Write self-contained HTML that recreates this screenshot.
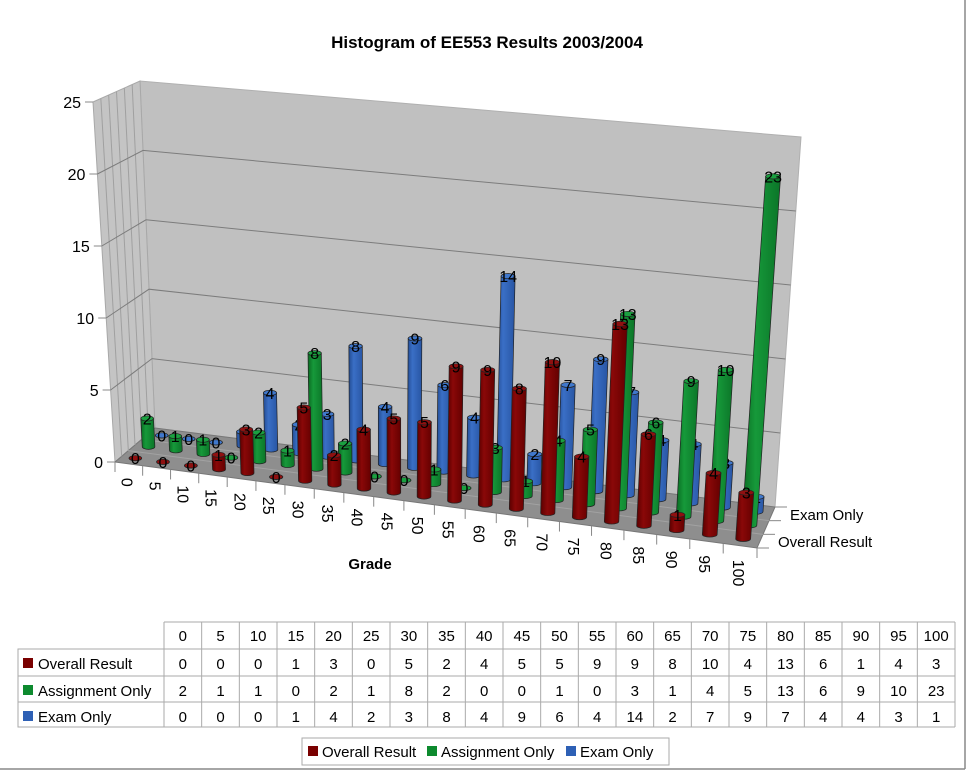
<!DOCTYPE html>
<html><head><meta charset="utf-8"><style>
body{margin:0;background:#fff;}
svg{display:block;font-family:"Liberation Sans",sans-serif;}
</style></head><body>
<svg id="chart" width="974" height="784" viewBox="0 0 974 784">
<defs>
<linearGradient id="gr" x1="0" x2="1"><stop offset="0" stop-color="#5a0000"/><stop offset="0.35" stop-color="#8a0808"/><stop offset="1" stop-color="#640000"/></linearGradient>
<linearGradient id="gg" x1="0" x2="1"><stop offset="0" stop-color="#0a6a22"/><stop offset="0.35" stop-color="#16993a"/><stop offset="1" stop-color="#0b7528"/></linearGradient>
<linearGradient id="gb" x1="0" x2="1"><stop offset="0" stop-color="#234c93"/><stop offset="0.35" stop-color="#3a6fc6"/><stop offset="1" stop-color="#2855a3"/></linearGradient>
</defs>
<line x1="965" y1="0" x2="965" y2="769" stroke="#888" stroke-width="1.5"/>
<line x1="0" y1="769" x2="965" y2="769" stroke="#888" stroke-width="1.5"/>
<text x="487" y="48" text-anchor="middle" font-size="17" font-weight="bold">Histogram of EE553 Results 2003/2004</text>
<g id="walls"></g>
<g id="bars"></g>
<g id="axes"></g>
<text x="370" y="569" text-anchor="middle" font-size="15" font-weight="bold">Grade</text>
<g id="table"></g>
</svg>
<script>
const categories=["0","5","10","15","20","25","30","35","40","45","50","55","60","65","70","75","80","85","90","95","100"];
const seriesNames=["Overall Result","Assignment Only","Exam Only"];
const overallResult=[0,0,0,1,3,0,5,2,4,5,5,9,9,8,10,4,13,6,1,4,3];
const assignmentOnly=[2,1,1,0,2,1,8,2,0,0,1,0,3,1,4,5,13,6,9,10,23];
const examOnly=[0,0,0,1,4,2,3,8,4,9,6,4,14,2,7,9,7,4,4,3,1];
const yTicks=[0,5,10,15,20,25];
const series=[overallResult,assignmentOnly,examOnly];
const fills=["url(#gr)","url(#gg)","url(#gb)"];
const caps=["#8f1010","#1aa040","#4078cc"];
const swatch=["#7a0000","#0d8a2e","#2e60b5"];
const NS="http://www.w3.org/2000/svg";
const VMAX=25;
const C={b:{fl:[115,462],fr:[757,548],bl:[155,428],br:[775,507]},t:{fl:[93,102],fr:[785,158],bl:[140,81],br:[801,137]}};
const PA=0.9;
function warp(u){return PA*u/(1+(PA-1)*u);}
function bil(c,u,w){const f=[c.fl[0]+(c.fr[0]-c.fl[0])*u,c.fl[1]+(c.fr[1]-c.fl[1])*u];const b=[c.bl[0]+(c.br[0]-c.bl[0])*u,c.bl[1]+(c.br[1]-c.bl[1])*u];return [f[0]+(b[0]-f[0])*w,f[1]+(b[1]-f[1])*w];}
function P(u,w,v){u=warp(u);const a=bil(C.b,u,w),b=bil(C.t,u,w),t=v/VMAX;return [a[0]+(b[0]-a[0])*t,a[1]+(b[1]-a[1])*t];}
function xU(i){return (i+0.5)/categories.length;}
function wS(s){return (2*s+1)/6;}
function mk(tag,attrs,parent){const e=document.createElementNS(NS,tag);for(const k in attrs)e.setAttribute(k,attrs[k]);parent.appendChild(e);return e;}
function poly(pts){return pts.map(p=>p[0].toFixed(1)+","+p[1].toFixed(1)).join(" ");}
const walls=document.getElementById("walls"),bars=document.getElementById("bars"),axes=document.getElementById("axes");
let e;
e=mk("polygon",{points:poly([P(0,1,0),P(1,1,0),P(1,1,VMAX),P(0,1,VMAX)]),fill:"#c0c0c0",stroke:"#b0b0b0"},walls);

e=mk("polygon",{points:poly([P(0,0,0),P(0,1,0),P(0,1,VMAX),P(0,0,VMAX)]),fill:"#c4c4c4",stroke:"#a8a8a8"},walls);

e=mk("polygon",{points:poly([P(0,0,0),P(1,0,0),P(1,1,0),P(0,1,0)]),fill:"#8e8e8e",stroke:"#777"},walls);

for(let k=1;k<6;k++){const w=k/6;e=mk("line",{x1:P(0,w,0)[0],y1:P(0,w,0)[1],x2:P(0,w,VMAX)[0],y2:P(0,w,VMAX)[1],stroke:"#a0a0a0","stroke-width":1},walls);
}
[1/3,2/3].forEach(w=>{e=mk("line",{x1:P(0,w,0)[0],y1:P(0,w,0)[1],x2:P(1,w,0)[0],y2:P(1,w,0)[1],stroke:"#a2a2a2","stroke-width":1},walls);
});
yTicks.forEach(v=>{
 if(v>0&&v<VMAX){const a=P(0,0,v),b=P(0,1,v),c=P(1,1,v);
 e=mk("polyline",{points:poly([a,b,c]),fill:"none",stroke:"#7c7c7c","stroke-width":1},walls);
 }
 const p=P(0,0,v);
 e=mk("line",{x1:p[0]-8,y1:p[1],x2:p[0],y2:p[1],stroke:"#888"},axes);
 
 e=mk("text",{x:p[0]-12,y:p[1]+6,"text-anchor":"end","font-size":16},axes);e.textContent=v;
 
});
for(let s=2;s>=0;s--){
 series[s].forEach((v,i)=>{
  const u=xU(i),w=wS(s);const B=P(u,w,0),T=P(u,w,v);
  const r=6.3+1.2*u,ry=2.6;
  const g=mk("g",{},bars);
  
  
  const d=`M${B[0]-r},${B[1]} L${T[0]-r},${T[1]} L${T[0]+r},${T[1]} L${B[0]+r},${B[1]} A${r},${ry} 0 0 1 ${B[0]-r},${B[1]} Z`;
  mk("path",{d:d,fill:fills[s],stroke:"#222","stroke-width":0.7},g);
  mk("ellipse",{cx:T[0],cy:T[1],rx:r,ry:ry,fill:caps[s],stroke:"#222","stroke-width":0.7},g);
  const t=mk("text",{x:T[0],y:T[1]+6,"text-anchor":"middle","font-size":16,fill:"#000"},g);t.textContent=v;
  
 });
}
for(let i=0;i<=categories.length;i++){const p=P(i/categories.length,0,0);
 e=mk("line",{x1:p[0],y1:p[1],x2:p[0],y2:p[1]+10,stroke:"#888"},axes);
 }
categories.forEach((c,i)=>{const p=P(xU(i),0,0);const x=p[0]-3,y=p[1]+14;
 e=mk("text",{x:x,y:y,"font-size":16,transform:`rotate(90 ${x} ${y})`,"dominant-baseline":"middle"},axes);e.textContent=c;
 });
[0,1/3,2/3,1].forEach(w=>{const p=P(1,w,0);e=mk("line",{x1:p[0],y1:p[1],x2:p[0]+12,y2:p[1],stroke:"#888"},axes);
 });
[[0,"Overall Result"],[2,"Exam Only"]].forEach(([s,n])=>{const p=P(1,wS(s),0);
 e=mk("text",{x:p[0]+18,y:p[1]+6,"font-size":15},axes);e.textContent=n;
 });
const tb=document.getElementById("table");
const L=164,R=955,cw=(R-L)/21,rows=[622,649,676,702,727];
e=mk("rect",{x:18,y:649,width:L-18,height:78,fill:"none",stroke:"#aaa"},tb);

for(let r=0;r<5;r++){e=mk("line",{x1:r==0?L:18,y1:rows[r],x2:R,y2:rows[r],stroke:"#aaa"},tb);}
for(let c=0;c<=21;c++){const x=L+c*cw;e=mk("line",{x1:x,y1:622,x2:x,y2:727,stroke:"#aaa"},tb);}
categories.forEach((c,i)=>{e=mk("text",{x:L+(i+0.5)*cw,y:641,"text-anchor":"middle","font-size":15},tb);e.textContent=c;
 });
series.forEach((arr,s)=>{const y=rows[s+1]+20;
 e=mk("rect",{x:23,y:y-11,width:10,height:10,fill:swatch[s]},tb);
 e=mk("text",{x:38,y:y,"font-size":15},tb);e.textContent=seriesNames[s];
 arr.forEach((v,i)=>{e=mk("text",{x:L+(i+0.5)*cw,y:y,"text-anchor":"middle","font-size":15},tb);e.textContent=v;
  });
});
const lg=mk("g",{},tb);
mk("rect",{x:302,y:738,width:367,height:27,fill:"#fff",stroke:"#aaa"},lg);
const lx=[308,427,566];
seriesNames.forEach((n,s)=>{const it=mk("g",{},lg);
 mk("rect",{x:lx[s],y:746,width:10,height:10,fill:swatch[s]},it);
 const t=mk("text",{x:lx[s]+14,y:757,"font-size":15},it);t.textContent=n;});
</script>
</body></html>
